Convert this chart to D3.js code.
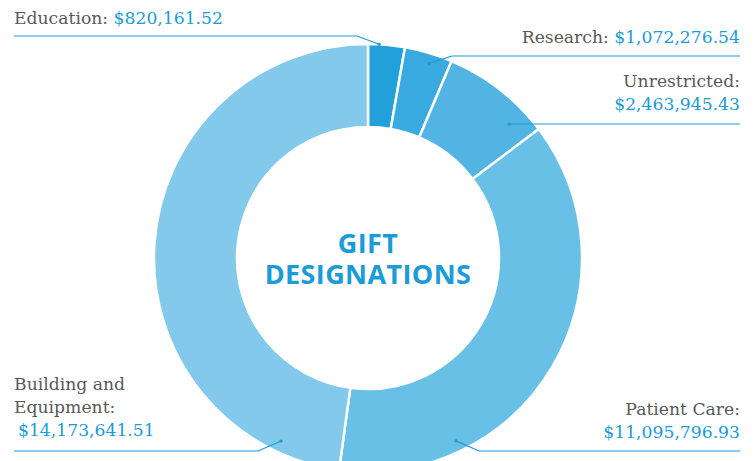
<!DOCTYPE html>
<html>
<head>
<meta charset="utf-8">
<script src="https://cdn.jsdelivr.net/npm/d3@7"></script>
<style>
  body { margin: 0; background: #fff; }
  svg { display: block; }
  .lbl { font-family: 'DejaVu Serif', serif; font-size: 17.2px; fill: #595959; }
  .val { fill: #1b9bd7; }
  .title { font-family: 'Open Sans', sans-serif; font-weight: 700; font-size: 27px; letter-spacing: 0.4px; fill: #1b9bd7; }
</style>
</head>
<body>
<div id="graph"></div>
<script>
// gift designations, clockwise from 12 o'clock
var categories = ['Education', 'Research', 'Unrestricted', 'Patient Care', 'Building and Equipment']
var amounts = [820161.52, 1072276.54, 2463945.43, 11095796.93, 14173641.51]
var colors = ['#21a0da', '#39aadf', '#51b4e2', '#69c0e6', '#83c9eb']
var titleLines = ['GIFT', 'DESIGNATIONS']

var width = 755, height = 461
var cx = 368, cy = 258, outerR = 214, innerR = 131

// label placement: text lines, anchor side, pointer angle (deg) + radius
var labelLayout = [
  {lines: ['Education: ', null], side: 'left', y: 24, lineY: 36, elbowX: 357, ang: 3, r: 214, inline: true},
  {lines: ['Research: ', null], side: 'right', y: 43, lineY: 56, elbowX: 452, ang: 17.4, r: 204, inline: true},
  {lines: ['Unrestricted:', null], side: 'right', y: 87, lineY: 124, elbowX: null, ang: 46.5, r: 194.5},
  {lines: ['Patient Care:', null], side: 'right', y: 415, lineY: 451, elbowX: 479, ang: 154.3, r: 203},
  {lines: ['Building and', 'Equipment:', null], side: 'left', y: 390, lineY: 451, elbowX: 258, ang: 205.4, r: 202.6, valDx: 4}
]

var fmt = d3.format('$,.2f')
var data = categories.map((d, i) => ({name: d, value: amounts[i], color: colors[i]}))

var svg = d3.select('#graph').append('svg')
  .attr('width', width).attr('height', height)

var pie = d3.pie().sort(null).value(d => d.value).startAngle(0).endAngle(2*Math.PI)
var arc = d3.arc().innerRadius(innerR).outerRadius(outerR)

var g = svg.append('g').attr('transform', `translate(${cx},${cy})`)

g.selectAll('path.slice').data(pie(data)).join('path')
  .attr('class', 'slice')
  .attr('d', arc)
  .attr('fill', d => d.data.color)
  .attr('stroke', '#fff')
  .attr('stroke-width', 2.5)

// center title, one text block
svg.append('text').attr('class', 'title')
  .attr('text-anchor', 'middle')
  .selectAll('tspan').data(titleLines).join('tspan')
  .attr('x', cx).attr('y', (d, i) => 253 + i*31)
  .text(d => d)

// labels + leaders
var left = 14, right = 740, lh = 23

data.forEach((d, i) => {
  var L = labelLayout[i]
  var a = L.ang*Math.PI/180
  var px = cx + L.r*Math.sin(a), py = cy - L.r*Math.cos(a)
  var isLeft = L.side == 'left'
  var x = isLeft ? left : right
  var anchor = isLeft ? 'start' : 'end'

  if (L.inline){
    var t = svg.append('text').attr('class', 'lbl')
      .attr('x', x).attr('y', L.y).attr('text-anchor', anchor)
    t.append('tspan').text(L.lines[0])
    t.append('tspan').attr('class', 'val').text(fmt(d.value))
  } else {
    L.lines.forEach((s, j) => {
      svg.append('text').attr('class', 'lbl' + (s == null ? ' val' : ''))
        .attr('x', x + (s == null && L.valDx ? L.valDx : 0))
        .attr('y', L.y + j*lh).attr('text-anchor', anchor)
        .text(s == null ? fmt(d.value) : s)
    })
  }

  var pts = isLeft
    ? [[left, L.lineY], [L.elbowX, L.lineY], [px, py]]
    : [[right, L.lineY], [L.elbowX == null ? px : L.elbowX, L.lineY], [px, py]]

  svg.append('path')
    .attr('d', d3.line()(pts))
    .attr('fill', 'none').attr('stroke', '#1b9bd7').attr('stroke-width', 1.2)
  svg.append('circle').attr('cx', px).attr('cy', py).attr('r', 1.6).attr('fill', '#1b9bd7')
})
</script>
</body>
</html>
